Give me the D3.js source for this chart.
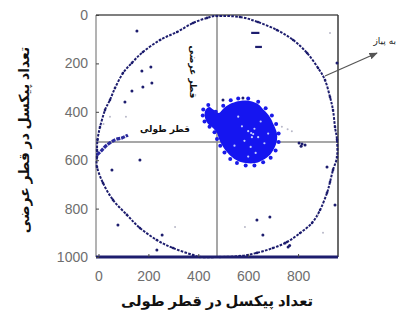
<!DOCTYPE html>
<html><head><meta charset="utf-8">
<script src="https://cdn.jsdelivr.net/npm/d3@7"></script>
<style>
body{margin:0;background:#fff;}
svg{display:block;}
</style></head>
<body>
<svg id="c" width="397" height="326"></svg>
<script>
// ---- data (pixel counts) ----
const xTicks = [0, 200, 400, 600, 800];
const yTicks = [0, 200, 400, 600, 800, 1000];
const xTitle = "تعداد پیکسل در قطر طولی";
const yTitle = "تعداد پیکسل در قطر عرضی";
const labelLong = "قطر طولی";
const labelCross = "قطر عرضی";
const labelSkin = "به پیاز";
const crossX = 475;   // vertical diameter position
const crossY = 525;   // horizontal diameter position

// outer skin ring points
const ringPts = [
 [475,4],[567,8],[639,29],[715,62],[780,103],[836,157],[880,219],[908,269],[928,339],[940,393],
 [948,463],[956,516],[956,587],[940,640],[928,690],[916,735],[888,806],[856,859],[808,901],[756,938],
 [699,963],[635,983],[567,996],[487,1000],[407,1000],[379,992],[299,963],[234,930],[166,880],[114,826],
 [58,764],[18,694],[-6,628],[-6,587],[-6,558],[-4,516],[6,463],[26,393],[46,351],[66,302],
 [98,240],[134,198],[178,153],[247,103],[315,70],[379,33],[435,12]
];
// thick segment on left side
const leftSeg = [[-6,578],[14,558],[34,537],[66,516],[94,508],[118,496]];

// core blob outline
const blobOutline = [
 [535,364],[567,355],[607,355],[639,368],[663,393],[687,421],[703,455],[715,488],[715,521],[703,554],
 [687,578],[659,599],[627,612],[591,612],[559,603],[535,587],[511,562],[495,537],[483,512],[475,488],
 [459,467],[439,450],[427,426],[427,397],[443,380],[463,393],[483,405],[503,384]
];
// fuzzy edge points of blob
const blobEdge = [
 [420,390],[440,372],[470,400],[500,375],[530,352],[560,345],[600,345],[640,358],[670,385],[695,415],
 [712,450],[722,490],[722,525],[710,560],[690,590],[660,608],[625,622],[590,622],[555,612],[528,595],
 [505,568],[488,540],[475,512],[465,485],[445,462],[425,440],[418,415]
];
// light speckles inside blob
const blobHoles = [
 [600,480],[625,470],[640,505],[585,520],[610,545],[650,440],[575,460],[630,570],[600,585],[665,530],
 [560,420],[680,490],[615,505],[545,540],[612,488],[620,492]
];
// faint trail right of blob
const trailPts = [[690,440],[712,452],[735,462],[758,472],[775,480]];

// isolated dark points
const darkPts = [
 [154,66],[210,215],[174,231],[214,281],[134,314],[106,359],[178,298],[166,599],[54,640],[78,868],
 [234,971],[255,909],[687,835],[635,847],[659,909],[760,959],[748,942],[766,952],[948,785],[916,628],
 [956,198],[499,351],[579,343],[816,533],[804,529],[828,537],[812,542]
];
// isolated light points
const lightPts = [[307,876],[587,876],[880,826],[928,74],[46,420],[20,450],[110,420],[900,900]];
// short dark dashes near top
const dashes = [[[612,74],[645,74]],[[628,132],[655,132]]];

// ---- drawing ----
const svg = d3.select("#c");
const x = d3.scaleLinear().domain([-10, 960]).range([96, 338]);
const y = d3.scaleLinear().domain([0, 1000]).range([15, 257]);
const navy = "#1d1d6e";

// cross lines
svg.append("line").attr("x1", x(crossX)).attr("x2", x(crossX)).attr("y1", y(0)).attr("y2", y(1000))
  .attr("stroke", "#8a8a8a").attr("stroke-width", 1.5);
svg.append("line").attr("x1", x(-10)).attr("x2", x(960)).attr("y1", y(crossY)).attr("y2", y(crossY))
  .attr("stroke", "#8a8a8a").attr("stroke-width", 1.5);

// frame
svg.append("line").attr("x1", x(-10)).attr("x2", x(-10)).attr("y1", y(0)).attr("y2", y(1000)).attr("stroke", "#808080").attr("stroke-width", 1.2);
svg.append("line").attr("x1", x(-10)).attr("x2", x(960)).attr("y1", y(0)).attr("y2", y(0)).attr("stroke", "#555").attr("stroke-width", 1.3);
svg.append("line").attr("x1", x(960)).attr("x2", x(960)).attr("y1", y(0)).attr("y2", y(1000)).attr("stroke", "#3a3a3a").attr("stroke-width", 1.5);

// ring
const ringLine = d3.line().x(d => x(d[0])).y(d => y(d[1])).curve(d3.curveCardinalClosed);
svg.append("path").attr("d", ringLine(ringPts)).attr("fill", "none")
  .attr("stroke", navy).attr("stroke-width", 2).attr("stroke-dasharray", "2.6,1.3");
svg.append("g").selectAll("circle").data(ringPts).join("circle")
  .attr("cx", d => x(d[0])).attr("cy", d => y(d[1])).attr("r", 1.3).attr("fill", navy);

// left thick segment
svg.append("path").attr("d", d3.line().x(d => x(d[0])).y(d => y(d[1])).curve(d3.curveCardinal)(leftSeg))
  .attr("fill", "none").attr("stroke", "#2a2a9c").attr("stroke-width", 3.2).attr("stroke-dasharray", "4,1");

// bottom axis line (dense points)
svg.append("line").attr("x1", x(-10)).attr("x2", x(960)).attr("y1", y(1000)).attr("y2", y(1000)).attr("stroke", navy).attr("stroke-width", 3);

// faint trail and light points
svg.append("g").selectAll("circle").data(trailPts.concat(lightPts)).join("circle")
  .attr("cx", d => x(d[0])).attr("cy", d => y(d[1])).attr("r", 1).attr("fill", "#b8b8c8");

// blob
svg.append("path").attr("d", ringLine(blobOutline)).attr("fill", "#1515f0");
svg.append("g").selectAll("circle").data(blobEdge).join("circle")
  .attr("cx", d => x(d[0])).attr("cy", d => y(d[1])).attr("r", 2).attr("fill", "#1a1ae8");
svg.append("g").selectAll("circle").data(blobHoles).join("circle")
  .attr("cx", d => x(d[0])).attr("cy", d => y(d[1])).attr("r", 1.1).attr("fill", "#c8d0ff");

// dark points
svg.append("g").selectAll("circle").data(darkPts).join("circle")
  .attr("cx", d => x(d[0])).attr("cy", d => y(d[1])).attr("r", 1.5).attr("fill", navy);
svg.append("g").selectAll("line").data(dashes).join("line")
  .attr("x1", d => x(d[0][0])).attr("y1", d => y(d[0][1])).attr("x2", d => x(d[1][0])).attr("y2", d => y(d[1][1]))
  .attr("stroke", navy).attr("stroke-width", 2.2);

// axes
const ax = svg.append("g").attr("transform", `translate(0,${y(1000)})`)
  .call(d3.axisBottom(x).tickValues(xTicks).tickFormat(d3.format("d")).tickSize(-3).tickPadding(14));
const ay = svg.append("g").attr("transform", `translate(${x(-10)},0)`)
  .call(d3.axisLeft(y).tickValues(yTicks).tickFormat(d3.format("d")).tickSize(-3).tickPadding(8));
[ax, ay].forEach(a => {
  a.select(".domain").remove();
  a.selectAll(".tick line").attr("stroke", "#444");
  a.selectAll("text").attr("fill", "#6e6e6e").style("font-family", "Liberation Sans, Arial, sans-serif").style("font-size", "14px");
});

// inner labels
svg.append("text").attr("x", 165).attr("y", 132).attr("text-anchor", "middle")
  .style("font-family", "DejaVu Sans, sans-serif").style("font-size", "9px").style("font-weight", "bold").attr("fill", "#111")
  .text(labelLong);
svg.append("text").attr("transform", "translate(193,72) rotate(90)").attr("text-anchor", "middle").attr("dy", "0.35em")
  .style("font-family", "DejaVu Sans, sans-serif").style("font-size", "9px").style("font-weight", "bold").attr("fill", "#111")
  .text(labelCross);
svg.append("text").attr("x", 396).attr("y", 44).attr("text-anchor", "end")
  .style("font-family", "DejaVu Sans, sans-serif").style("font-size", "9px").attr("fill", "#222")
  .text(labelSkin);

// arrow
svg.append("defs").append("marker").attr("id", "ah").attr("viewBox", "0 0 10 10").attr("refX", 9).attr("refY", 5)
  .attr("markerWidth", 7).attr("markerHeight", 7).attr("orient", "auto")
  .append("path").attr("d", "M0,1 L10,5 L0,9 z").attr("fill", "#555");
svg.append("line").attr("x1", 325).attr("y1", 76).attr("x2", 377).attr("y2", 53)
  .attr("stroke", "#555").attr("stroke-width", 1.2).attr("marker-end", "url(#ah)");

// axis titles
svg.append("text").attr("x", 217).attr("y", 306).attr("text-anchor", "middle")
  .style("font-family", "Noto Sans, DejaVu Sans, sans-serif").style("font-size", "14.8px").style("font-weight", "bold").attr("fill", "#111")
  .text(xTitle);
svg.append("text").attr("transform", "translate(24,140) rotate(-90)").attr("text-anchor", "middle").attr("dy", "0.35em")
  .style("font-family", "Noto Sans, DejaVu Sans, sans-serif").style("font-size", "14px").style("font-weight", "bold").attr("fill", "#111")
  .text(yTitle);
</script>
</body></html>
